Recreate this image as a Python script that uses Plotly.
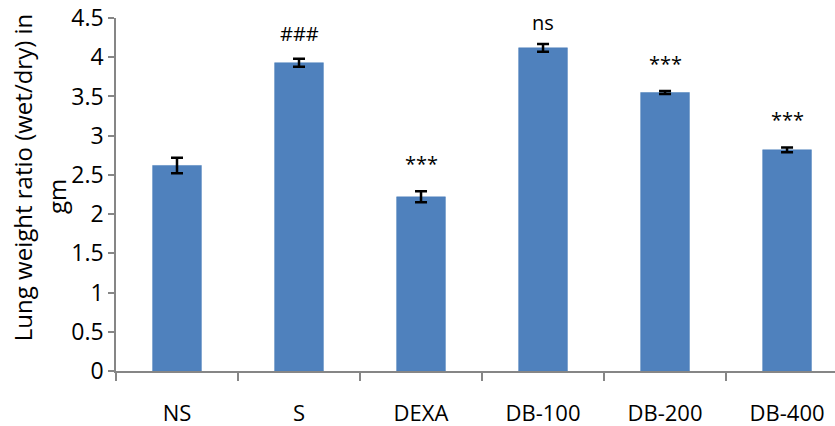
import plotly.graph_objects as go

categories = ["NS", "S", "DEXA", "DB-100", "DB-200", "DB-400"]
values = [2.62, 3.93, 2.22, 4.12, 3.55, 2.82]
errors = [0.10, 0.05, 0.07, 0.05, 0.02, 0.03]
labels = ["", "###", "***", "ns", "***", "***"]

FONT = "Open Sans"
label_shift = {"###": 10, "***": 12, "ns": 6}
fig = go.Figure()
fig.add_trace(go.Bar(
    x=categories, y=values, width=0.4,
    marker=dict(color="#4F81BD", line=dict(color="#4A7EBB", width=0.5)),
    error_y=dict(type="data", array=errors, visible=True, color="black",
                 thickness=2.5, width=6),
))
for c, v, e, t in zip(categories, values, errors, labels):
    if t:
        fig.add_annotation(x=c, y=v + e, text=t, showarrow=False, yanchor="bottom",
                           yshift=label_shift[t],
                           font=dict(family=FONT, size=20, color="black"))

fig.add_annotation(xref="paper", yref="paper", x=-0.129, y=0.547, xanchor="center",
                   yanchor="middle", text="Lung weight ratio (wet/dry) in", textangle=-90,
                   showarrow=False, font=dict(family=FONT, size=24, color="black"))
fig.add_annotation(xref="paper", yref="paper", x=-0.082, y=0.493, xanchor="center",
                   yanchor="middle", text="gm", textangle=-90,
                   showarrow=False, font=dict(family=FONT, size=24, color="black"))

fig.update_layout(
    width=835, height=426,
    margin=dict(l=116, r=0, t=18, b=55),
    paper_bgcolor="white", plot_bgcolor="white",
    showlegend=False,
    font=dict(family=FONT, size=22, color="black"),
    xaxis=dict(range=[-0.5, 5.393], showline=True, linecolor="#868686", linewidth=1.5,
               ticks="outside", tickson="boundaries", ticklen=8, tickcolor="#868686",
               tickwidth=1.5, ticklabelstandoff=22, tickfont=dict(size=22, family=FONT)),
    yaxis=dict(range=[0, 4.5], dtick=0.5, showline=True, linecolor="#868686", linewidth=1.5,
               ticks="outside", ticklen=6, tickcolor="#868686", tickwidth=1.5,
               showgrid=False, zeroline=False, tickfont=dict(size=23, family=FONT),
               tickformat="~g"),
)
fig.write_html("out.html")
